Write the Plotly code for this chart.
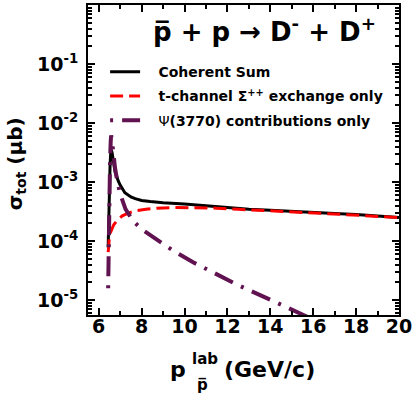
import plotly.graph_objects as go

# p_lab (GeV/c) and sigma_tot (microbarn)
sum_x = [6.44, 6.46, 6.48, 6.50, 6.53, 6.56, 6.58, 6.62, 6.67, 6.76, 6.91, 7.0,
         7.22, 7.5, 7.7, 8.0, 8.4, 9.0, 10, 11, 12, 13, 14, 15, 16, 17, 18, 19, 20]
sum_y = [7.9e-5, 2.0e-4, 5.0e-4, 1.0e-3, 2.0e-3, 3.2e-3, 3.55e-3, 3.2e-3, 2.4e-3,
         1.51e-3, 1.05e-3, 8.9e-4, 6.6e-4, 5.6e-4, 5.25e-4, 4.9e-4, 4.7e-4, 4.47e-4,
         4.27e-4, 3.98e-4, 3.72e-4, 3.47e-4, 3.35e-4, 3.24e-4, 3.09e-4, 2.95e-4,
         2.82e-4, 2.66e-4, 2.51e-4]

tch_x = [6.44, 6.46, 6.5, 6.55, 6.6, 6.7, 6.9, 7.1, 7.4, 7.8, 8.2, 8.7, 9.5, 10.5,
         11.5, 12.5, 13.5, 14.5, 15.5, 16.5, 17.5, 18.5, 19.5, 20]
tch_y = [6.5e-5, 1.0e-4, 1.2e-4, 1.41e-4, 1.58e-4, 1.9e-4, 2.34e-4, 2.69e-4,
         3.02e-4, 3.31e-4, 3.47e-4, 3.63e-4, 3.72e-4, 3.72e-4, 3.63e-4, 3.47e-4,
         3.35e-4, 3.24e-4, 3.09e-4, 2.95e-4, 2.82e-4, 2.72e-4, 2.6e-4, 2.51e-4]

psi_x = [6.44, 6.45, 6.47, 6.50, 6.53, 6.56, 6.58, 6.62, 6.67, 6.76, 6.85, 6.91,
         7.0, 7.25, 7.6, 8.0, 8.7, 9.5, 10.4, 11.5, 12.5, 14.0, 15.25, 16.0]
psi_y = [1.6e-5, 4.0e-5, 1.6e-4, 7.9e-4, 2.5e-3, 5.0e-3, 6.2e-3, 5.0e-3, 3.2e-3,
         1.74e-3, 1.12e-3, 8.5e-4, 6.3e-4, 3.5e-4, 2.2e-4, 1.6e-4, 1.07e-4, 6.8e-5,
         4.4e-5, 2.7e-5, 1.8e-5, 1.02e-5, 6.3e-6, 4.7e-6]

y_ticks = [1e-5, 1e-4, 1e-3, 1e-2, 1e-1]
y_ticktext = ['10<sup>-5</sup>', '10<sup>-4</sup>', '10<sup>-3</sup>',
              '10<sup>-2</sup>', '10<sup>-1</sup>']
x_ticks = [6, 8, 10, 12, 14, 16, 18, 20]

FONT = 'DejaVu Sans'
SP = '\u00a0\u00a0\u00a0'

fig = go.Figure()

fig.add_trace(go.Scatter(
    x=sum_x, y=sum_y, mode='lines', name=SP + '<b>Coherent Sum</b>',
    legendgroup='a', line=dict(color='black', width=3)
))
fig.add_trace(go.Scatter(
    x=tch_x, y=tch_y, mode='lines',
    name=SP + '<b>t-channel Σ<sup>++</sup> exchange only</b>',
    legendgroup='b', line=dict(color='#ff0000', width=3, dash='13px,6px')
))
fig.add_trace(go.Scatter(
    x=psi_x, y=psi_y, mode='lines',
    name=SP + 'Ψ<b>(3770) contributions only</b>',
    legendgroup='c', line=dict(color='#611250', width=4, dash='3px,9px,20px,9px')
))

minor_y = [k * 10.0 ** n for n in range(-6, 1) for k in range(2, 10)]

fig.update_xaxes(
    range=[5.5, 20], tickvals=x_ticks,
    ticks='inside', ticklen=7, tickwidth=2, tickcolor='black',
    minor=dict(ticks='inside', dtick=1, ticklen=4, tickwidth=1.5, tickcolor='black'),
    showline=True, linewidth=2, linecolor='black', mirror='allticks',
    showgrid=False, zeroline=False, ticklabelstandoff=-7,
    tickfont=dict(family=FONT, size=19, color='black', weight='bold')
)
fig.update_yaxes(
    type='log', range=[-5.25, 0], tickvals=y_ticks, ticktext=y_ticktext,
    ticks='inside', ticklen=7, tickwidth=2, tickcolor='black',
    minor=dict(ticks='inside', tickvals=minor_y, ticklen=4, tickwidth=1.5, tickcolor='black'),
    showline=True, linewidth=2, linecolor='black', mirror='allticks',
    showgrid=False, zeroline=False, ticklabelstandoff=4,
    tickfont=dict(family=FONT, size=19, color='black', weight='bold')
)

# titles as annotations, positions in pixels of the 415x393 page
ann = [
    dict(text='<b>p̅ + p → D<sup>-</sup> + D<sup>+</sup></b>', x=265, y=28, size=26),
    dict(text='<b>σ<sub>tot</sub> (μb)</b>', x=16, y=163, size=20, angle=-90),
    dict(text='<b>p</b>', x=178, y=370, size=22),
    dict(text='<b>lab</b>', x=205, y=359, size=15),
    dict(text='<b>p̅</b>', x=203, y=385, size=15),
    dict(text='<b>(GeV/c)</b>', x=270, y=370, size=22),
]
for a in ann:
    fig.add_annotation(
        text=a['text'], xref='paper', yref='paper',
        x=(a['x'] - 88) / 312, y=(315 - a['y']) / 312,
        xanchor='center', yanchor='middle', showarrow=False,
        textangle=a.get('angle', 0),
        font=dict(family=FONT, size=a['size'], color='black')
    )

fig.update_layout(
    width=415, height=393,
    margin=dict(l=88, r=15, t=3, b=78),
    paper_bgcolor='white', plot_bgcolor='white',
    showlegend=True,
    legend=dict(x=0.055, y=0.835, xanchor='left', yanchor='top',
                bgcolor='rgba(0,0,0,0)', tracegroupgap=3,
                font=dict(family=FONT, size=14, color='black')),
)

fig.write_html("out.html", config={'displayModeBar': False},
               post_script="document.body.style.margin='0';")
